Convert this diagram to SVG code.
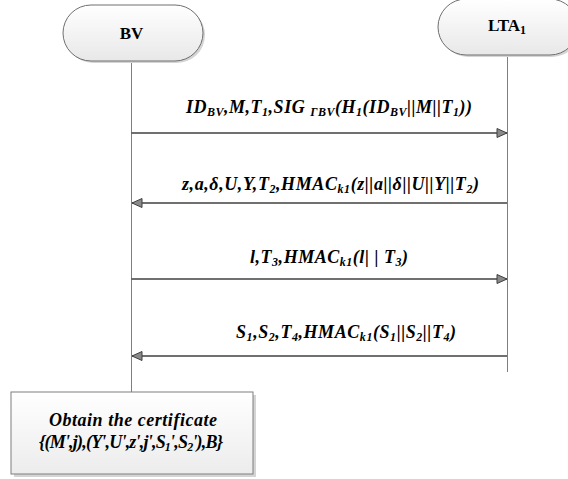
<svg xmlns="http://www.w3.org/2000/svg" width="568" height="479" viewBox="0 0 568 479">
<style>
.msg{font-family:"Liberation Serif","Times New Roman",serif;font-weight:bold;font-style:italic;font-size:18px;fill:#000}
.lbl{font-family:"Liberation Serif","Times New Roman",serif;font-weight:bold;font-size:17px;fill:#000}
.sub{font-size:12px}
.life{stroke:#7f7f7f;stroke-width:1;fill:none}
.conn{stroke:#404040;stroke-width:1.5;fill:none}
.pill{fill:url(#g);stroke:#6f6f6f;stroke-width:1}
.shadow{fill:#d4d4d4}
</style>
<defs>
<linearGradient id="g" x1="0" y1="0" x2="0" y2="1">
<stop offset="0" stop-color="#ffffff"/>
<stop offset="1" stop-color="#e8e8e8"/>
</linearGradient>
<linearGradient id="gb" x1="0" y1="0" x2="0" y2="1">
<stop offset="0" stop-color="#ffffff"/>
<stop offset="1" stop-color="#ececec"/>
</linearGradient>
<marker id="ah" markerUnits="userSpaceOnUse" markerWidth="14" markerHeight="12" refX="11" refY="6" orient="auto">
<path d="M1,1.5 L11,6 L1,10.5 Z" fill="#8a8a8a" stroke="#404040" stroke-width="1"/>
</marker>
</defs>

<g id="lifelines">
<line class="life" x1="131.5" y1="61" x2="131.5" y2="392"/>
<line class="life" x1="507.5" y1="55" x2="507.5" y2="372"/>
</g>

<g id="node-BV">
<rect class="shadow" x="65" y="7" width="140" height="56" rx="28" ry="28"/>
<rect class="pill" x="63" y="5" width="140" height="56" rx="28" ry="28"/>
<text class="lbl" x="131.5" y="39" text-anchor="middle">BV</text>
</g>

<g id="node-LTA1">
<rect class="shadow" x="440" y="1" width="140" height="56" rx="28" ry="28"/>
<rect class="pill" x="438" y="-1" width="140" height="56" rx="28" ry="28"/>
<text class="lbl" x="507" y="31" text-anchor="middle">LTA<tspan class="sub" dy="3">1</tspan></text>
</g>

<g id="connectors">
<line class="conn" x1="131.5" y1="133" x2="507" y2="133" marker-end="url(#ah)"/>
<line class="conn" x1="507" y1="203" x2="132" y2="203" marker-end="url(#ah)"/>
<line class="conn" x1="131.5" y1="279" x2="507" y2="279" marker-end="url(#ah)"/>
<line class="conn" x1="507" y1="356" x2="132" y2="356" marker-end="url(#ah)"/>
</g>

<g id="labels">
<text class="msg" x="186" y="113" textLength="286" lengthAdjust="spacing">ID<tspan class="sub" dy="3">BV</tspan><tspan dy="-3">,M,T</tspan><tspan class="sub" dy="3">1</tspan><tspan dy="-3">,SIG </tspan><tspan class="sub" dy="3">ΓBV</tspan><tspan dy="-3">(H</tspan><tspan class="sub" dy="3">1</tspan><tspan dy="-3">(ID</tspan><tspan class="sub" dy="3">BV</tspan><tspan dy="-3">||M||T</tspan><tspan class="sub" dy="3">1</tspan><tspan dy="-3">))</tspan></text>
<text class="msg" x="182" y="190" textLength="297" lengthAdjust="spacing">z,a,δ,U,Y,T<tspan class="sub" dy="3">2</tspan><tspan dy="-3">,HMAC</tspan><tspan class="sub" dy="3">k1</tspan><tspan dy="-3">(z||a||δ||U||Y||T</tspan><tspan class="sub" dy="3">2</tspan><tspan dy="-3">)</tspan></text>
<text class="msg" x="250" y="263" textLength="158" lengthAdjust="spacing">l,T<tspan class="sub" dy="3">3</tspan><tspan dy="-3">,HMAC</tspan><tspan class="sub" dy="3">k1</tspan><tspan dy="-3">(l| | T</tspan><tspan class="sub" dy="3">3</tspan><tspan dy="-3">)</tspan></text>
<text class="msg" x="236" y="338" textLength="220" lengthAdjust="spacing">S<tspan class="sub" dy="3">1</tspan><tspan dy="-3">,S</tspan><tspan class="sub" dy="3">2</tspan><tspan dy="-3">,T</tspan><tspan class="sub" dy="3">4</tspan><tspan dy="-3">,HMAC</tspan><tspan class="sub" dy="3">k1</tspan><tspan dy="-3">(S</tspan><tspan class="sub" dy="3">1</tspan><tspan dy="-3">||S</tspan><tspan class="sub" dy="3">2</tspan><tspan dy="-3">||T</tspan><tspan class="sub" dy="3">4</tspan><tspan dy="-3">)</tspan></text>
</g>

<g id="node-certificate">
<rect class="shadow" x="14" y="395" width="242" height="82"/>
<rect x="11" y="392" width="242" height="82" fill="url(#gb)" stroke="#7f7f7f" stroke-width="1"/>
<text class="msg" x="49" y="426" textLength="168" lengthAdjust="spacing">Obtain the certificate</text>
<text class="msg" x="39" y="448" textLength="184" lengthAdjust="spacing">{(M',j),(Y',U',z',j',S<tspan class="sub" dy="3">1</tspan><tspan dy="-3">',S</tspan><tspan class="sub" dy="3">2</tspan><tspan dy="-3">'),B}</tspan></text>
</g>
</svg>
